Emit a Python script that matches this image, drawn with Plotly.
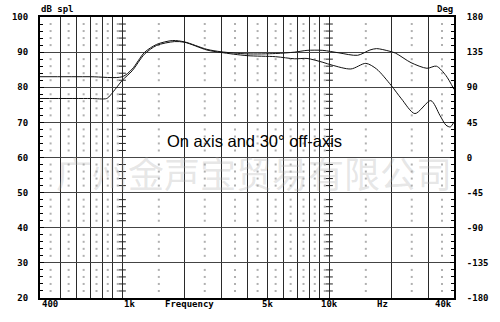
import plotly.graph_objects as go
import numpy as np

# On-axis response (Hz, dB SPL)
on_freq = [400, 700, 1000, 1116, 1278, 1464, 1750, 2000, 2560, 3000, 4000, 5500, 6800, 7800,
           9300, 11100, 13700, 15700, 16900, 19400, 20900, 24800, 29600, 32900, 36600, 40000]
on_db = [83.0, 83.0, 83.0, 85.2, 89.9, 92.2, 93.3, 92.9, 90.8, 90.1, 89.5, 89.6, 90.0, 90.5,
         90.5, 89.8, 89.1, 90.6, 91.0, 90.3, 89.7, 87.0, 85.4, 86.0, 83.3, 79.4]

# 30 degree off-axis response
off_freq = [400, 700, 840, 877, 934, 1000, 1116, 1278, 1464, 1787, 2000, 2560, 3000, 4000,
            5500, 6800, 7800, 9300, 10300, 12700, 15000, 16900, 19900, 22300, 25900, 30900,
            34200, 36600, 38400, 40000]
off_db = [76.8, 76.8, 76.8, 77.8, 79.8, 82.0, 84.7, 89.4, 91.9, 93.0, 92.8, 90.6, 89.9, 89.0,
          88.7, 88.1, 88.2, 87.1, 86.3, 85.2, 86.8, 85.2, 80.5, 76.7, 72.5, 76.2,
          72.0, 69.2, 68.7, 70.1]

# grid
solid_freqs = [500, 600, 700, 800, 900, 1000, 2000, 3000, 4000, 5000, 6000, 7000, 8000,
               9000, 10000, 20000, 30000]
dotted_freqs = [450, 550, 650, 750, 850, 950, 1500, 2500, 3500, 4500, 5500, 6500, 7500,
                8500, 9500, 15000, 25000, 35000]
tick_marked_freqs = [1000, 10000]

left_ticks = [20, 30, 40, 50, 60, 70, 80, 90, 100]
right_ticks = [-180, -135, -90, -45, 0, 45, 90, 135, 180]
right_labels = ["-180", "-135", "-90", "-45", "0", "45", "90", "135", "180"]

x_labels = ["400", "1k", "Frequency", "5k", "10k", "Hz", "40k"]
x_label_pos = [400, 1000, 2120, 5000, 10000, 18000, 40000]
x_label_anchor = ["left", "left", "center", "center", "center", "center", "right"]

title_text = "On axis and 30° off-axis"
watermark = "广州金声宝贸易有限公司"

tickfont = dict(family="DejaVu Sans Mono", size=9, color="black", weight=700)

fig = go.Figure()

# dotted minor grid
minor_levels = [v for v in range(22, 100, 2) if v % 10 != 0]
dx, dy = [], []
for f in dotted_freqs:
    for v in minor_levels:
        dx.append(f)
        dy.append(v)
fig.add_trace(go.Scatter(x=dx, y=dy, mode="markers",
                         marker=dict(symbol="square", size=2, color="#b0b0b0", line=dict(width=0)),
                         hoverinfo="skip", showlegend=False))

# tick marks on 1k and 10k lines
tx, ty = [], []
for f in tick_marked_freqs:
    for v in minor_levels:
        tx.append(f)
        ty.append(v)
fig.add_trace(go.Scatter(x=tx, y=ty, mode="markers",
                         marker=dict(symbol="line-ew", size=5, line=dict(width=1, color="#222")),
                         hoverinfo="skip", showlegend=False))

fig.add_trace(go.Scatter(x=on_freq, y=on_db, mode="lines",
                         line=dict(color="#111", width=1, shape="spline", smoothing=0.8),
                         hoverinfo="skip", showlegend=False))
fig.add_trace(go.Scatter(x=off_freq, y=off_db, mode="lines",
                         line=dict(color="#111", width=1, shape="spline", smoothing=0.8),
                         hoverinfo="skip", showlegend=False))
# invisible trace for right axis
fig.add_trace(go.Scatter(x=[1000], y=[0], yaxis="y2", mode="markers",
                         marker=dict(opacity=0), hoverinfo="skip", showlegend=False))

annotations = []
for t, p, a in zip(x_labels, x_label_pos, x_label_anchor):
    annotations.append(dict(x=np.log10(p), y=-0.021, xref="x", yref="paper", text=t,
                            showarrow=False, xanchor=a, yanchor="middle", font=tickfont))
annotations.append(dict(x=-0.003, y=1.028, xref="paper", yref="paper", text="dB spl",
                        showarrow=False, xanchor="left", yanchor="middle", font=tickfont))
annotations.append(dict(x=1.002, y=1.028, xref="paper", yref="paper", text="Deg",
                        showarrow=False, xanchor="right", yanchor="middle", font=tickfont))
annotations.append(dict(x=0.518, y=1 - (171 - 14) / 284, xref="paper", yref="paper", text=watermark,
                        showarrow=False, xanchor="center", yanchor="middle",
                        font=dict(family="Noto Sans CJK SC", size=36, color="rgba(170,170,170,0.3)")))
annotations.append(dict(x=0.518, y=1 - (139 - 14) / 284, xref="paper", yref="paper", text=title_text,
                        showarrow=False, xanchor="center", yanchor="middle",
                        font=dict(family="Liberation Sans", size=16.5, color="black")))

fig.update_layout(
    width=500, height=322,
    margin=dict(l=29, r=31, t=14, b=24),
    paper_bgcolor="white", plot_bgcolor="white",
    annotations=annotations,
    xaxis=dict(type="log", range=[np.log10(400), np.log10(40000)],
               tickvals=solid_freqs, showticklabels=False, ticks="",
               showgrid=True, gridcolor="#2a2a2a", gridwidth=1,
               showline=True, linecolor="black", linewidth=2, mirror=True, zeroline=False),
    yaxis=dict(range=[20, 100], tickvals=left_ticks, ticktext=[str(v) for v in left_ticks],
               showgrid=True, gridcolor="#444", gridwidth=1,
               ticks="inside", ticklen=4, tickcolor="black", ticklabelstandoff=8,
               minor=dict(ticks="inside", dtick=2, ticklen=3, tickcolor="black", showgrid=False),
               tickfont=tickfont, showline=True, linecolor="black", linewidth=2,
               mirror=False, zeroline=False),
    yaxis2=dict(range=[-180, 180], overlaying="y", side="right",
                tickvals=right_ticks, ticktext=right_labels, showgrid=False,
                ticks="inside", ticklen=4, tickcolor="black", ticklabelstandoff=9,
                minor=dict(ticks="inside", dtick=9, ticklen=3, tickcolor="black", showgrid=False),
                tickfont=tickfont, showline=True, linecolor="black", linewidth=2, zeroline=False),
)

fig.write_html("out.html")
